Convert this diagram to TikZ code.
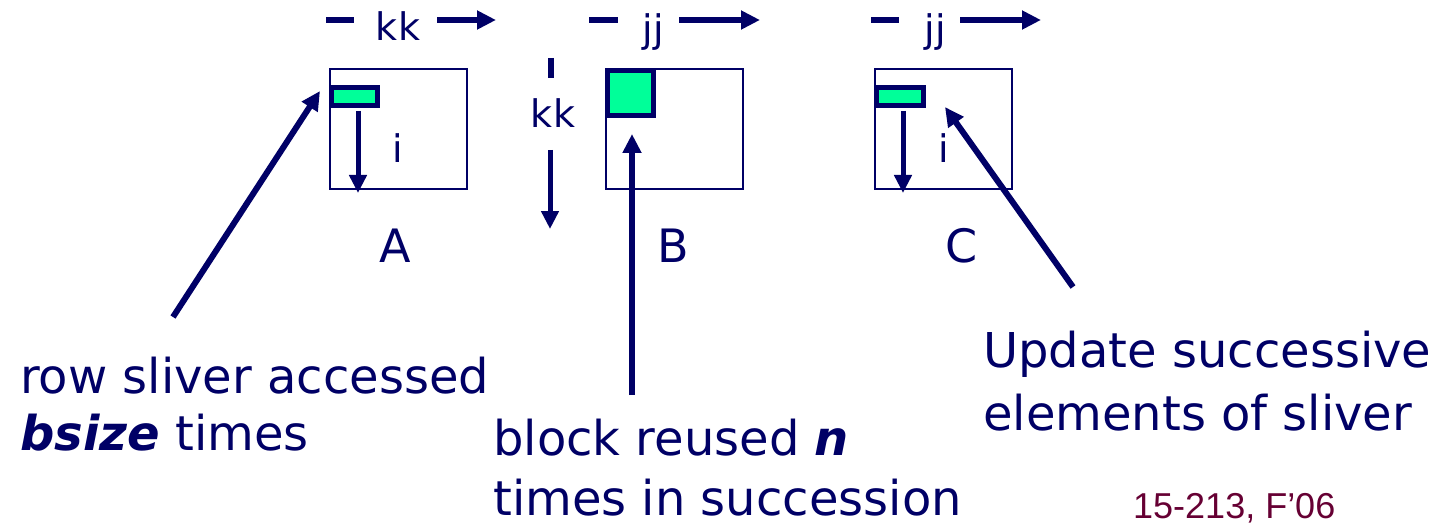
\documentclass[tikz,border=0pt]{standalone}
\usepackage{fontspec}
\setmainfont{DejaVu Sans}
\newfontfamily\footfont{Liberation Sans}
\usetikzlibrary{arrows.meta}
\definecolor{navy}{RGB}{0,0,102}
\definecolor{mint}{RGB}{0,255,153}
\definecolor{maroon}{RGB}{102,0,51}
\tikzset{
  matbox/.style={draw=navy, line width=2.7pt, inner sep=0pt, fill=white},
  sliverbox/.style={draw=navy, line width=5.5pt, fill=mint, inner sep=0pt},
  arr/.style={draw=navy, line width=6pt, -{Triangle[length=19pt,width=18pt]}},
  thinarr/.style={draw=navy, line width=5pt, -{Triangle[length=18pt,width=17pt]}},
  dashbar/.style={draw=navy, line width=6.5pt},
  lbl/.style={text=navy, inner sep=0pt, font=\fontsize{38}{44}\selectfont},
  biglbl/.style={text=navy, inner sep=0pt, font=\fontsize{46}{52}\selectfont},
  note/.style={text=navy, inner sep=0pt, anchor=base west, align=left},
}
\begin{document}
\begin{tikzpicture}[x=1pt,y=-1pt]
\useasboundingbox (0,0) rectangle (1446,524);
% matrices
\node[matbox, minimum width=137pt, minimum height=120pt] (A) at (398.5,129) {};
\node[matbox, minimum width=137pt, minimum height=120pt] (B) at (674.5,129) {};
\node[matbox, minimum width=137pt, minimum height=120pt] (C) at (943.5,129) {};
% slivers / block
\node[sliverbox, minimum width=46pt, minimum height=18pt] (sA) at (354.5,96.5) {};
\node[sliverbox, minimum width=46pt, minimum height=45pt] (sB) at (630.5,93) {};
\node[sliverbox, minimum width=47pt, minimum height=18pt] (sC) at (900,96.5) {};
% i arrows
\coordinate (aiTop) at (358,111);
\coordinate (aiBot) at (358,193);
\draw[thinarr] (aiTop) -- (aiBot);
\coordinate (ciTop) at (903,111);
\coordinate (ciBot) at (903,193);
\draw[thinarr] (ciTop) -- (ciBot);
\node[lbl, anchor=base] (iA) at (398,163) {i};
\node[lbl, anchor=base] (iC) at (944,163) {i};
% top labels
\node[lbl, anchor=base] (kkA) at (398,41) {kk};
\coordinate (kkAd1) at (326,20); \coordinate (kkAd2) at (354,20);
\draw[dashbar] (kkAd1) -- (kkAd2);
\coordinate (kkAa1) at (437,20); \coordinate (kkAa2) at (496,20);
\draw[arr] (kkAa1) -- (kkAa2);
\node[lbl, anchor=base] (jjB) at (653,43) {jj};
\coordinate (jjBd1) at (589,20); \coordinate (jjBd2) at (618,20);
\draw[dashbar] (jjBd1) -- (jjBd2);
\coordinate (jjBa1) at (679,20); \coordinate (jjBa2) at (760,20);
\draw[arr] (jjBa1) -- (jjBa2);
\node[lbl, anchor=base] (jjC) at (935,43) {jj};
\coordinate (jjCd1) at (871,20); \coordinate (jjCd2) at (899,20);
\draw[dashbar] (jjCd1) -- (jjCd2);
\coordinate (jjCa1) at (960,20); \coordinate (jjCa2) at (1041,20);
\draw[arr] (jjCa1) -- (jjCa2);
% vertical kk
\node[lbl, anchor=base] (kkB) at (553,128) {kk};
\coordinate (kkBd1) at (551,58); \coordinate (kkBd2) at (551,78);
\draw[dashbar] (kkBd1) -- (kkBd2);
\coordinate (kkBa1) at (550,150); \coordinate (kkBa2) at (550,229);
\draw[thinarr] (kkBa1) -- (kkBa2);
% matrix names
\node[biglbl, anchor=base] (nA) at (395,262) {A};
\node[biglbl, anchor=base] (nB) at (673,262) {B};
\node[biglbl, anchor=base] (nC) at (962,262) {C};
% notes (base anchor = last line's baseline)
\node[note, font=\fontsize{48}{57}\selectfont] (tA) at (20,450) {row sliver accessed\\\textbf{\textit{bsize}} times};
\node[note, font=\fontsize{48}{60}\selectfont] (tB) at (493,515) {block reused \textbf{\textit{n}}\\times in succession};
\node[note, font=\fontsize{48}{63}\selectfont] (tC) at (983,430) {Update successive\\elements of sliver};
\coordinate (pA) at (173,317);
\coordinate (pB) at (632,395);
\coordinate (pC) at (1073,287);
\coordinate (qA) at (320,91);
\coordinate (qB) at (632,134);
\coordinate (qC) at (945,107);
\draw[arr] (pA) -- (qA);
\draw[arr] (pB) -- (qB);
\draw[arr] (pC) -- (qC);
% footer
\node[inner sep=0pt, anchor=base west, text=maroon, font=\footfont\fontsize{36}{40}\selectfont] (foot) at (1133,518) {15-213, F’06};
\end{tikzpicture}
\end{document}
